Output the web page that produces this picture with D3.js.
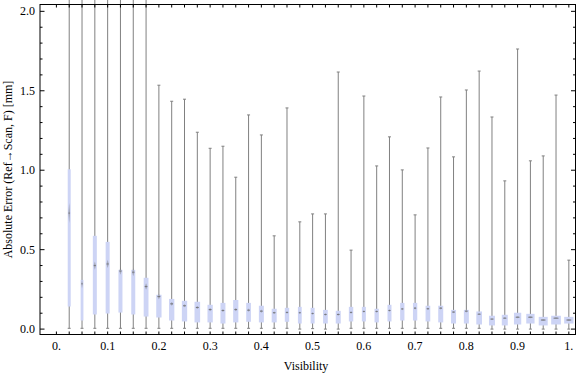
<!DOCTYPE html>
<html>
<head>
<meta charset="utf-8">
<script src="https://cdn.jsdelivr.net/npm/d3@7"></script>
<style>
  body { margin: 0; background: #fff; }
  text { font-family: "Liberation Serif", "DejaVu Serif", serif; }
</style>
</head>
<body>
<svg id="chart" width="576" height="375"></svg>
<script>
// the data: one box per visibility bin
const visibility = [0.025, 0.05, 0.075, 0.1, 0.125, 0.15, 0.175, 0.2, 0.225, 0.25,
  0.275, 0.3, 0.325, 0.35, 0.375, 0.4, 0.425, 0.45, 0.475, 0.5,
  0.525, 0.55, 0.575, 0.6, 0.625, 0.65, 0.675, 0.7, 0.725, 0.75,
  0.775, 0.8, 0.825, 0.85, 0.875, 0.9, 0.925, 0.95, 0.975, 1.0];
const whiskerLo = [0.005, 0.005, 0.005, 0.005, 0.005, 0.005, 0.005, 0.005, 0.005, 0.005,
  0.005, 0.005, 0.005, 0.005, 0.005, 0.005, 0.005, 0.005, 0.0, 0.003,
  0.0, 0.0, 0.005, 0.005, 0.005, 0.005, 0.005, 0.005, 0.005, 0.005,
  0.005, 0.005, 0.005, 0.0, 0.0, 0.0, 0.0, 0.0, 0.0, 0.0];
const q1 = [0.142, 0.054, 0.092, 0.098, 0.104, 0.092, 0.079, 0.073, 0.054, 0.048,
  0.042, 0.042, 0.035, 0.042, 0.046, 0.042, 0.042, 0.046, 0.035, 0.035,
  0.035, 0.035, 0.048, 0.048, 0.042, 0.048, 0.054, 0.054, 0.048, 0.042,
  0.035, 0.035, 0.029, 0.023, 0.023, 0.029, 0.035, 0.023, 0.029, 0.035];
const median = [0.73, 0.285, 0.40, 0.41, 0.365, 0.358, 0.268, 0.205, 0.159, 0.147,
  0.136, 0.123, 0.117, 0.123, 0.119, 0.113, 0.103, 0.105, 0.103, 0.098,
  0.092, 0.092, 0.105, 0.111, 0.111, 0.117, 0.127, 0.132, 0.128, 0.132,
  0.107, 0.113, 0.094, 0.063, 0.069, 0.075, 0.075, 0.057, 0.069, 0.057];
const q3 = [1.006, 0.31, 0.587, 0.549, 0.373, 0.373, 0.323, 0.216, 0.19, 0.178,
  0.172, 0.153, 0.165, 0.183, 0.165, 0.147, 0.128, 0.134, 0.14, 0.134,
  0.121, 0.115, 0.14, 0.14, 0.128, 0.153, 0.165, 0.165, 0.147, 0.147,
  0.121, 0.121, 0.111, 0.084, 0.09, 0.103, 0.096, 0.077, 0.084, 0.077];
const whiskerHi = [2.6, 2.6, 2.6, 2.6, 2.6, 2.6, 2.6, 1.535, 1.434, 1.447,
  1.239, 1.138, 1.151, 0.956, 1.348, 1.222, 0.587, 1.392, 0.675, 0.725,
  0.725, 1.618, 0.497, 1.467, 1.027, 1.21, 1.002, 0.719, 1.14, 1.461,
  1.084, 1.505, 1.624, 1.335, 0.933, 1.763, 1.059, 1.09, 1.473, 0.434];
// half height of the median notch
const notch = [0.063, 0.028, 0.026, 0.026, 0.023, 0.026, 0.021, 0.017, 0.012, 0.01,
  0.01, 0.01, 0.01, 0.01, 0.01, 0.01, 0.008, 0.008, 0.008, 0.008,
  0.008, 0.008, 0.008, 0.008, 0.008, 0.008, 0.008, 0.008, 0.008, 0.008,
  0.008, 0.008, 0.006, 0.006, 0.006, 0.006, 0.006, 0.006, 0.006, 0.006];
// relative box width (sample weight)
const relWidth = [0.30, 0.28, 0.40, 0.40, 0.40, 0.40, 0.48, 0.53, 0.53, 0.53,
  0.56, 0.53, 0.50, 0.52, 0.47, 0.50, 0.50, 0.44, 0.38, 0.40,
  0.47, 0.50, 0.44, 0.40, 0.43, 0.40, 0.43, 0.43, 0.47, 0.50,
  0.50, 0.50, 0.57, 0.60, 0.60, 0.73, 0.83, 0.90, 0.97, 0.93];

const xTickLabels = ["0.", "0.1", "0.2", "0.3", "0.4", "0.5", "0.6", "0.7", "0.8", "0.9", "1."];
const yTickLabels = ["0.0", "0.5", "1.0", "1.5", "2.0"];

const boxes = visibility.map((v, i) => ({
  x: v, lo: whiskerLo[i], q1: q1[i], med: median[i], q3: q3[i],
  hi: whiskerHi[i], notch: notch[i], w: relWidth[i]
}));

let svg = d3.select("#chart");

// plot frame in pixels
const frameL = 40, frameR = 575.5, frameT = 4.5, frameB = 334.5;

let x = d3.scaleLinear().domain([-0.032, 1.013]).range([frameL, frameR]);
let y = d3.scaleLinear().domain([-0.034, 2.043]).range([frameB, frameT]);
let wScale = d3.scaleLinear().domain([0, 1]).range([0, 10]);

const whiskerColor = "#808080";
const boxColor = "#cdd4f5";

// whiskers (drawn under the boxes)
let g = svg.append("g");
g.selectAll("line.whisker")
  .data(boxes)
  .enter()
  .append("line")
  .attr("class", "whisker")
  .attr("x1", d => x(d.x)).attr("x2", d => x(d.x))
  .attr("y1", d => y(d.lo)).attr("y2", d => y(d.hi))
  .attr("stroke", whiskerColor)
  .attr("stroke-width", 1);

// caps
["lo", "hi"].forEach(k => {
  g.selectAll("line.cap-" + k)
    .data(boxes)
    .enter()
    .append("line")
    .attr("x1", d => x(d.x) - 1.5).attr("x2", d => x(d.x) + 1.5)
    .attr("y1", d => y(d[k])).attr("y2", d => y(d[k]))
    .attr("stroke", whiskerColor)
    .attr("stroke-width", 1);
});

// boxes
g.selectAll("rect.box")
  .data(boxes)
  .enter()
  .append("rect")
  .attr("x", d => x(d.x) - wScale(d.w) / 2)
  .attr("width", d => wScale(d.w))
  .attr("y", d => y(d.q3))
  .attr("height", d => y(d.q1) - y(d.q3))
  .attr("fill", boxColor);

// notch around the median
g.selectAll("path.notch")
  .data(boxes)
  .enter()
  .append("path")
  .attr("d", d => {
    let cx = x(d.x), hw = wScale(d.w) * 0.3;
    return "M" + (cx - hw) + "," + y(d.med) +
      "L" + cx + "," + y(d.med + d.notch) +
      "L" + (cx + hw) + "," + y(d.med) +
      "L" + cx + "," + y(d.med - d.notch) + "Z";
  })
  .attr("fill", "#777")
  .attr("opacity", 0.45);

g.selectAll("line.median")
  .data(boxes)
  .enter()
  .append("line")
  .attr("x1", d => x(d.x) - wScale(d.w) * 0.25)
  .attr("x2", d => x(d.x) + wScale(d.w) * 0.25)
  .attr("y1", d => y(d.med)).attr("y2", d => y(d.med))
  .attr("stroke", "#666")
  .attr("stroke-width", 1)
  .attr("opacity", 0.7);

// frame
svg.append("rect")
  .attr("x", frameL).attr("y", frameT)
  .attr("width", frameR - frameL).attr("height", frameB - frameT)
  .attr("fill", "none")
  .attr("stroke", "#000")
  .attr("stroke-width", 1);

// x ticks on top and bottom at every bin, labels every 0.1
let xTickVals = [0].concat(visibility);
let axisG = svg.append("g").attr("stroke", "#000").attr("stroke-width", 1);
xTickVals.forEach(v => {
  axisG.append("line").attr("x1", x(v)).attr("x2", x(v)).attr("y1", frameB).attr("y2", frameB - 3);
  axisG.append("line").attr("x1", x(v)).attr("x2", x(v)).attr("y1", frameT).attr("y2", frameT + 3);
});

// y ticks every 0.1, longer at 0.5
let yTickVals = d3.range(0, 21).map(i => i / 10);
yTickVals.forEach((v, i) => {
  let len = i % 5 === 0 ? 4.5 : 2.5;
  axisG.append("line").attr("x1", frameL).attr("x2", frameL + len).attr("y1", y(v)).attr("y2", y(v));
  axisG.append("line").attr("x1", frameR).attr("x2", frameR - len).attr("y1", y(v)).attr("y2", y(v));
});

// tick labels
svg.append("g")
  .selectAll("text")
  .data(xTickLabels)
  .enter()
  .append("text")
  .attr("x", (d, i) => x(i / 10))
  .attr("y", 350)
  .attr("text-anchor", "middle")
  .attr("font-size", 12)
  .text(d => d);

svg.append("g")
  .selectAll("text")
  .data(yTickLabels)
  .enter()
  .append("text")
  .attr("x", 35)
  .attr("y", (d, i) => y(i * 0.5) + 4)
  .attr("text-anchor", "end")
  .attr("font-size", 12)
  .text(d => d);

// axis titles
svg.append("text")
  .attr("x", 306).attr("y", 369.5)
  .attr("text-anchor", "middle")
  .attr("font-size", 12)
  .text("Visibility");

svg.append("text")
  .attr("transform", "translate(12," + ((frameT + frameB) / 2) + ") rotate(-90)")
  .attr("text-anchor", "middle")
  .attr("font-size", 12)
  .text("Absolute Error (Ref\u2192Scan, F) [mm]");
</script>
</body>
</html>
